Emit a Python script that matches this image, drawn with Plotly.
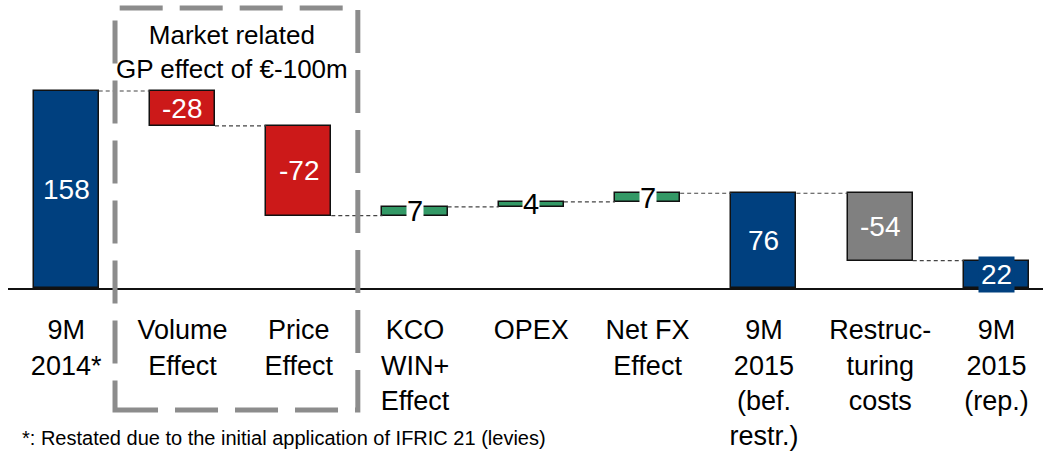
import plotly.graph_objects as go

# Bridge from 9M 2014 to 9M 2015 reported result (€m)
categories = [
    "9M<br>2014*", "Volume<br>Effect", "Price<br>Effect", "KCO<br>WIN+<br>Effect",
    "OPEX", "Net FX<br>Effect", "9M<br>2015<br>(bef.<br>restr.)",
    "Restruc-<br>turing<br>costs", "9M<br>2015<br>(rep.)",
]
values = [158, -28, -72, 7, 4, 7, 76, -54, 22]
measures = ["total", "delta", "delta", "delta", "delta", "delta", "total", "delta", "total"]
bar_colors = ["#00407F", "#CC1919", "#CC1919", "#339966", "#339966", "#339966",
              "#00407F", "#808080", "#00407F"]

FONT = "Liberation Sans, Arial, sans-serif"
BAR_W = 0.56

# running levels -> bar bases and heights
bases, heights, levels = [], [], []
level = 0
for v, m in zip(values, measures):
    if m == "total":
        bases.append(0)
        heights.append(v)
        level = v
    else:
        new_level = level + v
        bases.append(min(level, new_level))
        heights.append(abs(v))
        level = new_level
    levels.append(level)

xs = list(range(len(values)))

fig = go.Figure()
fig.add_trace(go.Bar(
    x=xs, y=heights, base=bases, width=BAR_W,
    marker=dict(color=bar_colors, line=dict(color="#111111", width=1.5)),
    hoverinfo="skip", showlegend=False,
))

# dashed connectors between consecutive bars
cx, cy = [], []
for i in range(len(values) - 1):
    cx += [i + BAR_W / 2, i + 1 - BAR_W / 2, None]
    cy += [levels[i], levels[i], None]
fig.add_trace(go.Scatter(
    x=cx, y=cy, mode="lines",
    line=dict(color="#444444", width=1.2, dash="4px,3px"),
    hoverinfo="skip", showlegend=False,
))

# value labels centred on each bar
for i, v in enumerate(values):
    mid = bases[i] + heights[i] / 2
    color = bar_colors[i]
    if color == "#339966":
        ann = dict(font=dict(color="black", size=29, family=FONT), bgcolor="white",
                   borderpad=0)
    elif i == len(values) - 1:
        ann = dict(font=dict(color="white", size=28, family=FONT), bgcolor=color,
                   borderpad=2)
    else:
        ann = dict(font=dict(color="white", size=28, family=FONT))
    fig.add_annotation(x=i, y=mid, text=str(v), showarrow=False,
                       xanchor="center", yanchor="middle", **ann)

# market-related group box
fig.add_shape(type="rect", xref="paper", yref="paper",
              x0=0.1034, x1=0.338, y0=-0.424, y1=0.972,
              line=dict(color="#8C8C8C", width=5, dash="43px,17px"),
              fillcolor="rgba(0,0,0,0)", layer="above")
fig.add_annotation(xref="paper", yref="paper", x=0.2164, y=0.818,
                   text="Market related<br>GP effect of €-100m", showarrow=False,
                   xanchor="center", yanchor="middle",
                   font=dict(size=26, color="black", family=FONT))

fig.add_annotation(xref="paper", yref="paper", x=0.012, y=-0.566,
                   text="*: Restated due to the initial application of IFRIC 21 (levies)",
                   showarrow=False, xanchor="left", yanchor="bottom",
                   font=dict(size=20, color="black", family=FONT))

fig.update_layout(
    width=1043, height=452,
    margin=dict(l=8, r=0, t=0, b=164, autoexpand=False),
    paper_bgcolor="white", plot_bgcolor="white",
    font=dict(family=FONT, color="black"),
    bargap=0,
    xaxis=dict(
        range=[-0.5, 8.4], tickmode="array", tickvals=xs, ticktext=categories,
        showline=True, linecolor="#111111", linewidth=2, showgrid=False,
        zeroline=False, ticks="", tickfont=dict(size=27, color="black", family=FONT),
        ticklabelstandoff=17, automargin=False,
    ),
    yaxis=dict(range=[0, 231], visible=False, showgrid=False, zeroline=False,
               automargin=False),
)

fig.write_html("out.html")
